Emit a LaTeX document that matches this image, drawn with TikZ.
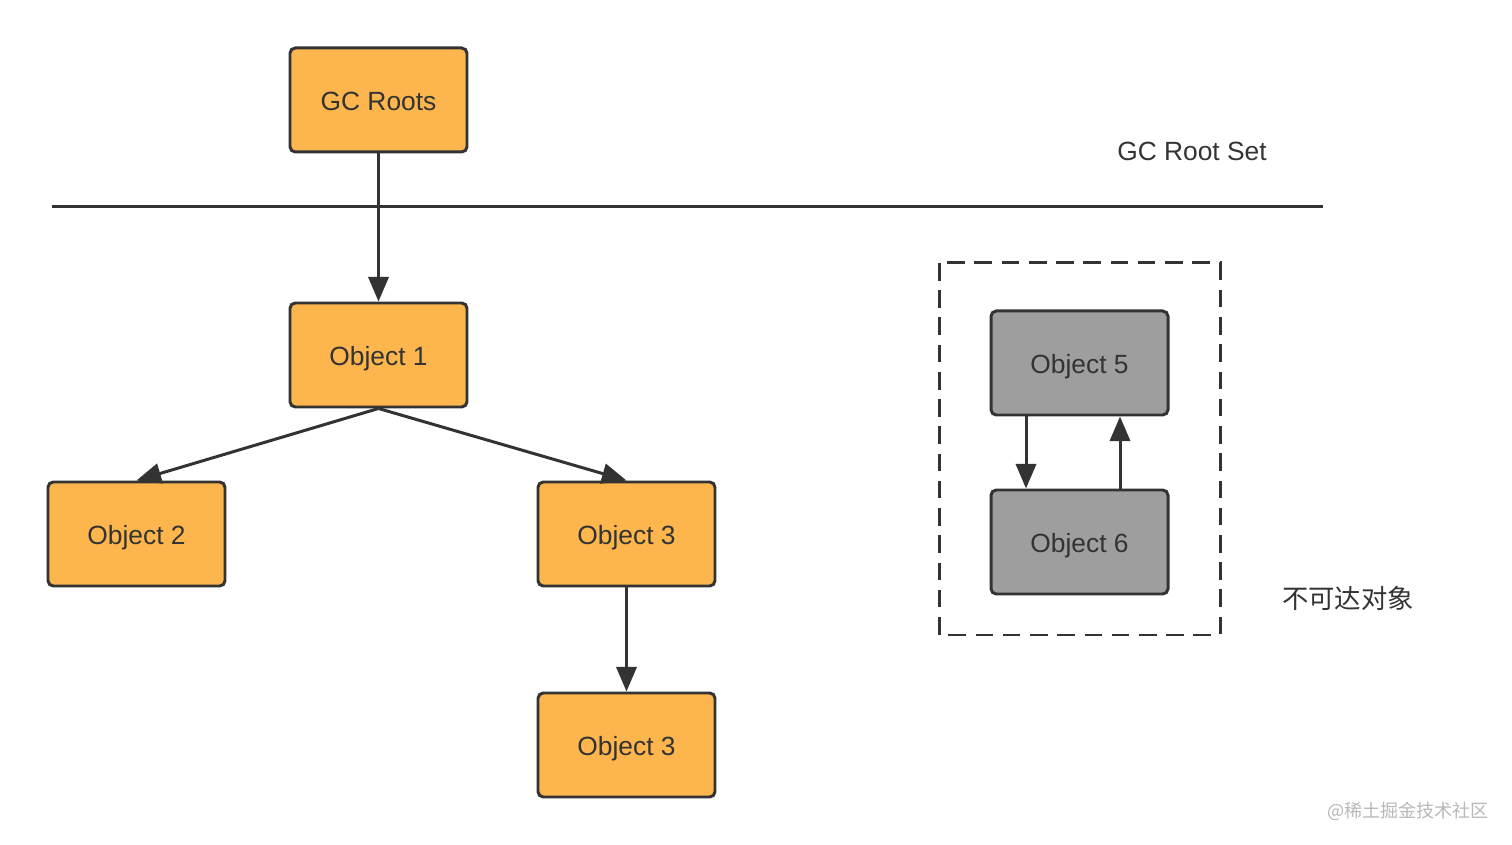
\documentclass[tikz,border=0pt]{standalone}
\usepackage{fontspec}
\setmainfont{Liberation Sans}
\newfontfamily\cjkfont{Noto Sans CJK SC}
\usepackage{tikz}
\usetikzlibrary{positioning,arrows.meta}

\definecolor{boxorange}{HTML}{FDB64D}
\definecolor{boxgray}{HTML}{9E9E9E}
\definecolor{inkdark}{HTML}{333333}

\begin{document}
\begin{tikzpicture}[font=\fontsize{15}{18}\selectfont,
every node/.style={text=inkdark},
obj/.style={draw=inkdark,line width=1.7pt,rounded corners=3pt,
  minimum width=3.54cm,minimum height=2.08cm,fill=boxorange,
  text height=2.2ex,text depth=0pt},
dead/.style={obj,fill=boxgray},
ref/.style={draw=inkdark,line width=1.7pt,-{Triangle[length=14pt,width=11.5pt]}}]
\useasboundingbox (0,0) rectangle (30.24,-16.9);
% reachable objects
\node[obj] (roots) at (7.57,-2.0) {GC Roots};
\node[obj] (obj1) at (7.57,-7.1) {Object 1};
\node[obj] (obj2) at (2.73,-10.68) {Object 2};
\node[obj] (obj3) at (12.53,-10.68) {Object 3};
\node[obj] (obj3b) at (12.53,-14.9) {Object 3};
% root set boundary
\coordinate (setl) at (1.04,-4.14);
\coordinate (setr) at (26.46,-4.14);
\draw[draw=inkdark,line width=1.7pt] (setl) -- (setr);
\node (setlabel) at (23.84,-3.02) {GC Root Set};
\draw[ref] (roots) -- (obj1);
\draw[ref] (obj1.south) -- (obj2.north);
\draw[ref] (obj1.south) -- (obj3.north);
\draw[ref] (obj3) -- (obj3b);
% unreachable cycle
\node[dead] (obj5) at (21.59,-7.26) {Object 5};
\node[dead] (obj6) at (21.59,-10.84) {Object 6};
\draw[ref] ([xshift=-1.07cm]obj5.south) -- ([xshift=-1.07cm]obj6.north);
\draw[ref] ([xshift=0.81cm]obj6.north) -- ([xshift=0.81cm]obj5.south);
\draw[draw=inkdark,line width=1.7pt,dash pattern=on 10pt off 5.5pt]
  (18.78,-5.26) rectangle (24.4,-12.7);
\node (deadlabel) at (26.96,-11.96) {\cjkfont 不可达对象};
\node[text=black!28,font=\fontsize{10.3}{12}\selectfont] (mark) at (28.16,-16.22) {\cjkfont @稀土掘金技术社区};
\end{tikzpicture}
\end{document}
